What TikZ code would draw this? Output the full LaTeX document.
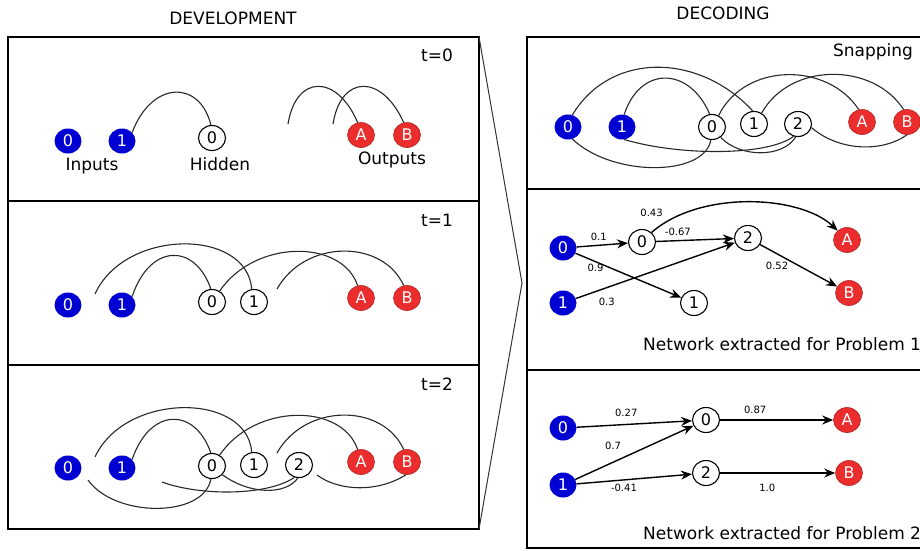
\documentclass[tikz,border=0pt]{standalone}
\usepackage{fontspec}
\setmainfont{DejaVu Sans}
\usetikzlibrary{shapes.geometric,arrows.meta}
\definecolor{inblue}{RGB}{0,0,210}
\definecolor{outred}{RGB}{235,45,45}
\definecolor{wiregray}{RGB}{40,40,40}
\tikzset{
  nd/.style={ellipse, minimum width=27pt, minimum height=25pt, inner sep=0pt, font=\fontsize{16}{16}\selectfont},
  inp/.style={nd, fill=inblue, text=white},
  hid/.style={nd, draw=black, line width=1.1pt, fill=white, text=black},
  outp/.style={nd, fill=outred, draw=outred!75!black, line width=0.6pt, text=white},
  panel/.style={draw=black, line width=1.7pt},
  wire/.style={draw=wiregray, line width=1.1pt},
  funnel/.style={draw=black!80, line width=1pt},
  arr/.style={draw=black, line width=1.4pt, -{Stealth[length=11pt,width=9pt]}},
  lbl/.style={font=\fontsize{17}{17}\selectfont, inner sep=0pt},
  ttl/.style={font=\fontsize{17}{17}\selectfont, inner sep=0pt},
  wlbl/.style={font=\fontsize{10}{10}\selectfont, inner sep=1.5pt},
}
\begin{document}
\begin{tikzpicture}[x=1pt,y=-1pt]
\useasboundingbox (0,0) rectangle (920,550);
\clip (0,0) rectangle (920,550);

% titles
\node[ttl] (devt) at (233,18) {DEVELOPMENT};
\node[ttl] (dect) at (723,13) {DECODING};

% left panel frame
\draw[panel] (8,37) rectangle (479,529);
\draw[panel] (8,201) -- (479,201);
\draw[panel] (8,365) -- (479,365);
% right panel frame
\draw[panel] (527,37) rectangle (940,548);
\draw[panel] (527,189) -- (940,189);
\draw[panel] (527,370) -- (940,370);
% funnel
\coordinate (ftop) at (479,37);
\coordinate (ftip) at (522,283);
\coordinate (fbot) at (479,529);
\draw[funnel] (ftop) -- (ftip) -- (fbot);

% ---------- t=0 ----------
\node[lbl] (at) at (437,55) {t=0};
\node[inp] (ai0) at (68,141) {0};
\node[inp] (ai1) at (122,141) {1};
\node[hid] (ah0) at (212,138) {0};
\node[outp] (aA) at (361,135) {A};
\node[outp] (aB) at (407,135) {B};
\node[lbl] (ainl) at (92,166) {Inputs};
\node[lbl] (ahl) at (220,164) {Hidden};
\node[lbl] (aol) at (392,160) {Outputs};
\coordinate (af1) at (288,124);
\coordinate (af2) at (333,124);
\draw[wire] (ai1.40) .. controls (152,80) and (200,80) .. (ah0.95);
\draw[wire] (af1) .. controls (296,74) and (337,74) .. (aA.105);
\draw[wire] (af2) .. controls (341,74) and (382,74) .. (aB.105);

% ---------- t=1 ----------
\node[lbl] (bt) at (437,220) {t=1};
\node[inp] (bi0) at (68,305) {0};
\node[inp] (bi1) at (122,305) {1};
\node[hid] (bh0) at (212,302) {0};
\node[hid] (bh1) at (254,302) {1};
\node[outp] (bA) at (361,298) {A};
\node[outp] (bB) at (407,298) {B};
\coordinate (bfa) at (95,294);
\coordinate (bfd) at (277,289);
\draw[wire] (bfa) .. controls (125,228) and (247,228) .. (bh1.100);
\draw[wire] (bi1.40) .. controls (150,243) and (195,243) .. (bh0.95);
\draw[wire] (bh0.55) .. controls (255,239) and (342,239) .. (bA.105);
\draw[wire] (bfd) .. controls (305,239) and (383,239) .. (bB.105);

% ---------- t=2 ----------
\node[lbl] (ct) at (437,384) {t=2};
\node[inp] (ci0) at (68,468) {0};
\node[inp] (ci1) at (122,468) {1};
\node[hid] (ch0) at (212,466) {0};
\node[hid] (ch1) at (254,465) {1};
\node[hid] (ch2) at (299,465) {2};
\node[outp] (cA) at (361,462) {A};
\node[outp] (cB) at (407,462) {B};
\coordinate (cfa) at (95,457);
\coordinate (cfd) at (277,453);
\coordinate (cfe) at (88,480);
\coordinate (cff) at (162,482);
\coordinate (cfh) at (317,475);
\draw[wire] (cfa) .. controls (125,392) and (247,392) .. (ch1.100);
\draw[wire] (ci1.40) .. controls (150,407) and (195,407) .. (ch0.95);
\draw[wire] (ch0.55) .. controls (255,403) and (342,403) .. (cA.105);
\draw[wire] (cfd) .. controls (305,403) and (383,403) .. (cB.105);
\draw[wire] (cfe) .. controls (115,518) and (204,518) .. (ch0.265);
\draw[wire] (cff) .. controls (200,496) and (267,496) .. (ch2.250);
\draw[wire] (ch0.-40) .. controls (250,495) and (286,495) .. (ch2.265);
\draw[wire] (cfh) .. controls (340,492) and (379,492) .. (cB.265);

% ---------- Snapping ----------
\node[lbl] (snap) at (873,52) {Snapping};
\node[inp] (di0) at (568,127) {0};
\node[inp] (di1) at (622,127) {1};
\node[hid] (dh0) at (712,127) {0};
\node[hid] (dh1) at (754,124) {1};
\node[hid] (dh2) at (798,124) {2};
\node[outp] (dA) at (862,122) {A};
\node[outp] (dB) at (907,122) {B};
\draw[wire] (di0.70) .. controls (610,52) and (698,52) .. (dh1.95);
\draw[wire] (di1.80) .. controls (640,66) and (689,66) .. (dh0.100);
\draw[wire] (dh0.60) .. controls (745,62) and (828,62) .. (dA.105);
\draw[wire] (dh1.55) .. controls (790,62) and (873,62) .. (dB.105);
\draw[wire] (di0.-70) .. controls (612,177) and (704,177) .. (dh0.-95);
\draw[wire] (di1.-80) .. controls (680,156) and (768,156) .. (dh2.-110);
\draw[wire] (dh0.-50) .. controls (740,158) and (783,158) .. (dh2.-100);
\draw[wire] (dh2.-15) .. controls (840,152) and (883,152) .. (dB.-90);

% ---------- Problem 1 ----------
\node[inp] (ei0) at (563,248) {0};
\node[inp] (ei1) at (563,303) {1};
\node[hid] (eh0) at (642,242) {0};
\node[hid] (eh2) at (748,238) {2};
\node[hid] (eh1) at (694,303) {1};
\node[outp] (eA) at (847,240) {A};
\node[outp] (eB) at (849,293) {B};
\draw[arr] (ei0) -- node[wlbl,pos=0.43,above=2pt] {0.1} (eh0);
\draw[arr] (ei0) -- node[wlbl,pos=0.19,below] {0.9} (eh1);
\draw[arr] (ei1) -- node[wlbl,pos=0.195,below=8pt] {0.3} (eh2);
\draw[arr] (eh0) -- node[wlbl,pos=0.28,above=3pt] {-0.67} (eh2);
\draw[arr] (eh0.45) .. controls (700,190) and (800,195) .. node[wlbl,at start,above=14pt] {0.43} (eA.135);
\draw[arr] (eh2) -- node[wlbl,pos=0.22,below=6pt] {0.52} (eB);
\node[lbl,anchor=west] (p1) at (643,344) {Network extracted for Problem 1};

% ---------- Problem 2 ----------
\node[inp] (fi0) at (563,428) {0};
\node[inp] (fi1) at (563,485) {1};
\node[hid] (fh0) at (706,420) {0};
\node[hid] (fh2) at (706,473) {2};
\node[outp] (fA) at (847,420) {A};
\node[outp] (fB) at (849,473) {B};
\draw[arr] (fi0) -- node[wlbl,pos=0.43,above=6pt] {0.27} (fh0);
\draw[arr] (fi1) -- node[wlbl,pos=0.32,above=10pt] {0.7} (fh0);
\draw[arr] (fi1) -- node[wlbl,pos=0.41,below=2pt] {-0.41} (fh2);
\draw[arr] (fh0) -- node[wlbl,pos=0.31,above=4pt] {0.87} (fA);
\draw[arr] (fh2) -- node[wlbl,pos=0.41,below=9pt] {1.0} (fB);
\node[lbl,anchor=west] (p2) at (643,533) {Network extracted for Problem 2};
\end{tikzpicture}
\end{document}
